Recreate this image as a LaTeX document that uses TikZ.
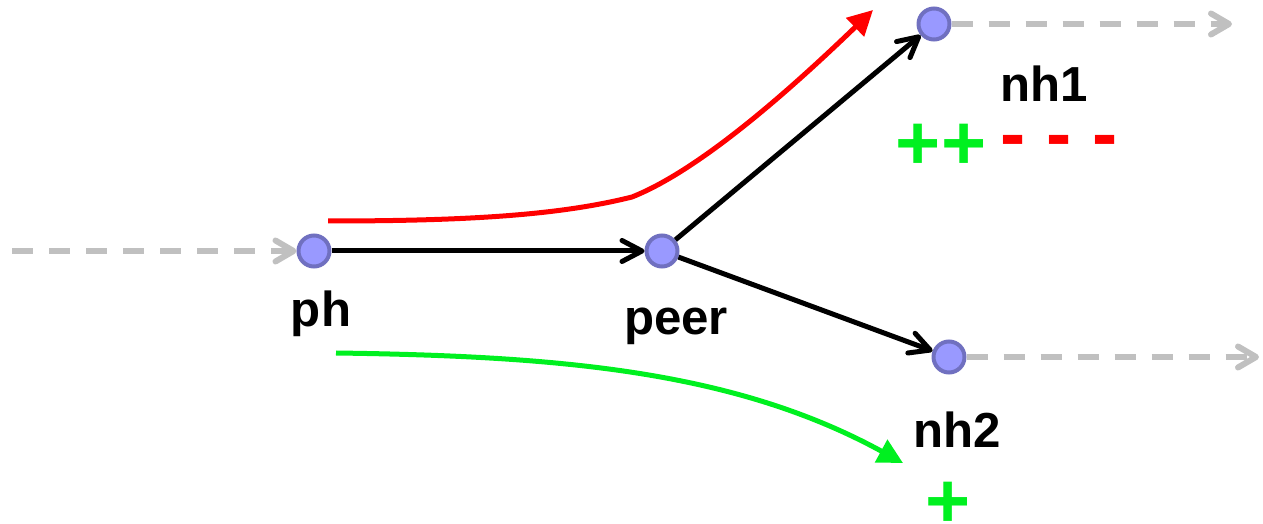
\documentclass[tikz,border=0pt]{standalone}
\usepackage{fontspec}
\setmainfont{Liberation Sans}
\usepackage{tikz}
\usetikzlibrary{arrows.meta}
\definecolor{pfill}{HTML}{9999FF}
\definecolor{pline}{HTML}{7070C0}
\definecolor{pgray}{HTML}{C0C0C0}
\definecolor{pred}{HTML}{FF0000}
\definecolor{pgreen}{HTML}{00F020}

\begin{document}
\begin{tikzpicture}[
  x=0.2mm,y=0.2mm,
  N/.style={circle,draw=pline,fill=pfill,line width=0.8mm,
            minimum size=6.2mm,inner sep=0pt},
  L/.style={anchor=base,inner sep=0pt,
            font=\fontsize{28}{30}\selectfont\bfseries},
  S/.style={inner sep=0pt,font=\fontsize{44}{46}\selectfont\bfseries},
  ar/.style={-{Straight Barb[length=4mm,width=4.2mm,round]},
             line width=1mm,black},
  ad/.style={-{Straight Barb[length=3.6mm,width=4.2mm,round]},
             line width=1.2mm,pgray,dash pattern=on 4.2mm off 3.2mm},
  cr/.style={-{Triangle[length=5mm,width=5mm]},line width=1mm,pred},
  cg/.style={-{Triangle[length=5mm,width=5mm]},line width=1mm,pgreen}
]
\useasboundingbox (0,0) rectangle (1263,523);

% routers
\node[N](ph)   at (314,272){};
\node[N](peer) at (662,272){};
\node[N](nh1)  at (934,499){};
\node[N](nh2)  at (949,166){};

\coordinate(in)   at (12,272);
\coordinate(out1) at (1232,499);
\coordinate(out2) at (1259,166);

% labels
\node[L](lph)   at (321,196){ph};
\node[L](lpeer) at (676,188){peer};
\node[L](lnh1)  at (1044,421){nh1};
\node[L](lnh2)  at (957,75){nh2};

\node[S,pgreen](pp1) at (941,376){++};
\node[S,pred,font=\fontsize{43}{46}\selectfont\bfseries](mm1)
     at (1059,376){- - -};
\node[S,pgreen](pp2) at (948,18){+};

% links
\draw[ad](in)--(ph);
\draw[ad](nh1)--(out1);
\draw[ad](nh2)--(out2);

\draw[ar](ph)--(peer);
\draw[ar](peer)--(nh1);
\draw[ar](peer)--(nh2);

% paths
\draw[cr](328,302) .. controls (470,302) and (560,308) .. (632,326)
               .. controls (700,353) and (790,433) .. (873,513);
\draw[cg](336,170) .. controls (560,167) and (735,152) .. (903,60);
\end{tikzpicture}
\end{document}
